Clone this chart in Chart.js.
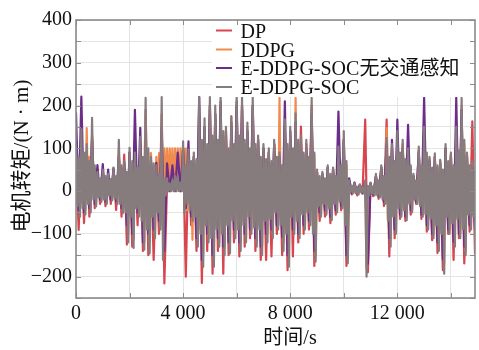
<!DOCTYPE html>
<html>
<head>
<meta charset="utf-8">
<script src="https://cdn.jsdelivr.net/npm/chart.js@4.4.0/dist/chart.umd.min.js"></script>
<style>
  html, body { margin: 0; padding: 0; background: #fff; }
  #wrap { width: 479px; height: 350px; }
</style>
</head>
<body>
<div id="wrap"><canvas id="c" width="479" height="350"></canvas></div>
<script>
// sample spacing (s): DDPG and E-DDPG-SOC are read finer than the others
const STEP = 100;
const STEP_FINE = 50;

// motor torque (N·m), peak/valley alternating
const dp = [
  80,-91, 100,-75, 90,-60, 130,-40, 40,-30, 45,-35, 35,-30, 50,-44, 85,-60, 85,-125,
  90,-130, 80,-80, 110,-140, 190,-150, 70,-161, 60,-100, 180,-216, 20,0, 20,0, 30,0,
  100,-200, 85,-80, 80,-140, 200,-215, 150,-140, 200,-193, 180,-140, 200,-193, 140,-150, 150,-120,
  200,-153, 200,-130, 140,-110, 200,-140, 120,-161, 100,-161, 90,-153, 110,-100, 80,-150, 150,-185,
  130,-153, 160,-120, 151,-100, 110,-90, 200,-175, 45,-70, 40,-60, 55,-75, 50,-55, 90,-45,
  120,-175, 25,-8, 18,-10, 14,-6, 167,-190, 18,-12, 35,-18, 55,-35, 167,-153, 100,-110,
  130,-65, 110,-70, 90,-55, 35,-30, 95,-65, 140,-95, 75,-115, 80,-145, 70,-185, 100,-100,
  85,-161, 140,-110, 190,-169, 85,-95, 163,-146
];
const ddpg = [
  90,-25,60,-40, 100,-30,70,-45, 147,-20,80,-40, 130,-15,50,-30, 40,-10,25,-20,
  45,-15,30,-25, 35,-10,25,-20, 50,-15,30,-25, 100,-25,55,-45, 60,-45,40,-100,
  90,-55,60,-110, 120,-30,50,-50, 110,-60,75,-120, 180,-70,90,-120, 89,-50,60,-100,
  80,-40,89,-80, 100,0,100,0, 100,0,100,0, 100,0,100,0, 100,0,100,0,
  100,0,100,-45, 90,-50,60,-114, 80,-55,70,-110, 180,-90,110,-150, 150,-70,100,-110,
  190,-100,120,-160, 170,-80,110,-120, 200,-90,130,-130, 140,-70,90,-120, 175,-60,100,-100,
  200,-80,120,-120, 190,-70,110,-110, 150,-50,90,-90, 190,-80,100,-120, 120,-80,75,-130,
  100,-60,70,-100, 90,-60,65,-100, 110,-45,75,-80, 218,-70,60,-120, 150,-90,100,-150,
  140,-55,90,-90, 218,-60,110,-100, 120,-50,85,-80, 110,-45,75,-70, 190,-90,85,-150,
  45,-30,30,-50, 40,-28,28,-50, 50,-35,35,-60, 50,-28,30,-45, 90,-20,50,-35,
  120,-70,60,-150, 22,-3,10,-5, 18,-4,9,-6, 14,-2,7,-4, 20,-180,10,-8,
  18,-5,9,-8, 35,-8,22,-12, 55,-15,30,-25, 147,-65,75,-110, 100,-55,65,-90,
  130,-35,80,-55, 110,-40,70,-60, 90,-28,55,-45, 35,-18,22,-25, 95,-30,55,-55,
  140,-50,85,-80, 75,-60,50,-100, 80,-70,55,-120, 70,-90,45,-170, 100,-55,65,-90,
  85,-65,55,-110, 140,-60,90,-100, 200,-85,110,-140, 85,-50,55,-80, 65,-55,40,-90
];
const socNoTraffic = [
  183,-45, 221,-50, 90,-40, 120,-30, 61,-20, 63,-25, 50,-20, 54,-25, 80,-40, 66,-80,
  90,-100, 190,-50, 148,-120, 120,-100, 70,-90, 66,-70, 150,-140, 65,0, 60,0, 90,0,
  100,-40, 116,-60, 80,-110, 220,-161, 150,-100, 200,-150, 180,-110, 210,-130, 130,-120, 160,-90,
  210,-120, 200,-100, 140,-90, 200,-110, 120,-130, 100,-100, 90,-90, 110,-80, 80,-107, 210,-150,
  140,-90, 160,-100, 110,-80, 100,-70, 180,-140, 45,-50, 40,-45, 55,-60, 50,-45, 186,-35,
  120,-150, 30,-5, 20,-5, 15,-5, 20,-170, 18,-8, 35,-12, 55,-25, 110,-110, 120,-90,
  167,-55, 100,-60, 155,-45, 35,-25, 90,-55, 218,-80, 70,-100, 80,-120, 65,-160, 100,-90,
  80,-118, 218,-100, 190,-130, 80,-80, 60,-90
];
const soc = [
  104,-35,80,-60, 145,-40,90,-55, 110,-30,70,-50, 171,-20,60,-36, 45,-15,30,-25,
  50,-20,35,-30, 40,-10,28,-22, 55,-18,35,-30, 120,-30,60,-52, 70,-50,45,-120,
  101,-60,70,-133, 90,-40,55,-60, 127,-70,80,-137, 218,-90,100,-146, 80,-60,65,-110,
  60,-50,40,-90, 220,-161,30,-10, 30,0,18,0, 25,0,35,0, 35,0,20,0,
  116,-52,60,-30, 97,-45,70,-70, 90,-60,75,-130, 220,-100,120,-177, 170,-80,110,-120,
  220,-110,130,-177, 200,-90,120,-130, 220,-100,140,-150, 150,-80,100,-146, 175,-70,110,-110,
  220,-90,130,-140, 220,-80,120,-120, 160,-60,100,-100, 220,-85,110,-130, 130,-90,80,-150,
  110,-70,75,-120, 100,-65,70,-110, 120,-50,80,-90, 90,-80,60,-140, 167,-100,110,-177,
  150,-60,100,-100, 182,-70,120,-110, 130,-55,90,-90, 120,-50,80,-80, 218,-100,90,-165,
  50,-35,35,-60, 45,-30,30,-55, 60,-40,40,-68, 55,-30,35,-50, 104,-25,60,-40,
  140,-80,70,-169, 25,-3,12,-5, 20,-5,10,-8, 15,-3,8,-5, 25,-200,12,-10,
  20,-6,10,-10, 40,-10,25,-15, 60,-20,35,-30, 124,-70,80,-130, 110,-60,70,-100,
  140,-40,90,-60, 120,-45,75,-68, 100,-30,60,-50, 40,-20,25,-30, 104,-35,60,-60,
  150,-55,90,-90, 80,-65,55,-110, 88,-80,60,-140, 73,-100,50,-193, 110,-60,70,-100,
  90,-75,60,-130, 150,-65,95,-110, 218,-90,120,-150, 90,-55,60,-90, 70,-60,45,-100
];

const xTicks = [0, 2000, 4000, 6000, 8000, 10000, 12000, 14000];
const yTicks = [-250, -200, -150, -100, -50, 0, 50, 100, 150, 200, 250, 300, 350, 400];

const seriesNames = ['DP', 'DDPG', 'E-DDPG-SOC无交通感知', 'E-DDPG-SOC'];
const seriesColors = ['#d8454f', '#f08a4e', '#6b2d8a', '#867c7d'];
const seriesData = [dp, ddpg, socNoTraffic, soc];
const seriesStep = [STEP, STEP_FINE, STEP, STEP_FINE];

const xTitle = '时间/s';
const yTitle = '电机转矩/(N · m)';

const SERIF = '"Liberation Serif", "DejaVu Serif", "Noto Sans CJK SC", serif';

function fmtX(v) {
  if (v % 4000 !== 0) return '';
  if (v < 1000) return String(v);
  return Math.floor(v / 1000) + ' ' + String(v % 1000).padStart(3, '0');
}
function fmtY(v) {
  if (v % 100 !== 0) return '';
  return v < 0 ? '\u2212' + Math.abs(v) : String(v);
}

// frame, inward ticks, legend and axis titles
const decor = {
  id: 'decor',
  afterDatasetsDraw(chart) {
    const ctx = chart.ctx;
    const area = chart.chartArea;
    ctx.save();
    ctx.fillStyle = '#fff';
    ctx.fillRect(212, area.top + 1, area.right - 213, 96 - area.top);
    const rows = [30.5, 49.5, 68, 87];
    ctx.font = '20px ' + SERIF;
    ctx.textBaseline = 'alphabetic';
    ctx.textAlign = 'left';
    chart.data.datasets.forEach((ds, i) => {
      ctx.strokeStyle = ds.borderColor;
      ctx.lineWidth = 2;
      ctx.beginPath();
      ctx.moveTo(216, rows[i]);
      ctx.lineTo(232, rows[i]);
      ctx.stroke();
      ctx.fillStyle = '#111';
      ctx.fillText(ds.label, 240.5, rows[i] + 7);
    });
    ctx.restore();
  },
  afterDraw(chart) {
    const ctx = chart.ctx;
    const { left, right, top, bottom } = chart.chartArea;
    const xs = chart.scales.x, ys = chart.scales.y;
    ctx.save();
    ctx.strokeStyle = '#8c8c8c';
    ctx.lineWidth = 1;
    ctx.beginPath();
    yTicks.forEach(v => {
      const py = Math.round(ys.getPixelForValue(v)) + 0.5;
      ctx.moveTo(left, py); ctx.lineTo(left + 5, py);
      ctx.moveTo(right, py); ctx.lineTo(right - 5, py);
    });
    xTicks.forEach(v => {
      const px = Math.round(xs.getPixelForValue(v)) + 0.5;
      ctx.moveTo(px, bottom); ctx.lineTo(px, bottom - 5);
      ctx.moveTo(px, top); ctx.lineTo(px, top + 5);
    });
    ctx.stroke();
    ctx.lineWidth = 1.6;
    ctx.strokeStyle = '#8a8a8a';
    ctx.strokeRect(left, top, right - left, bottom - top);

    ctx.fillStyle = '#111';
    ctx.textAlign = 'center';
    ctx.textBaseline = 'middle';
    ctx.font = '20px ' + SERIF;
    ctx.fillText(xTitle, 290, 339);
    ctx.translate(22.5, 156);
    ctx.rotate(-Math.PI / 2);
    ctx.font = '21px ' + SERIF;
    ctx.fillText(yTitle, 0, 0);
    ctx.restore();
  }
};

new Chart(document.getElementById('c'), {
  type: 'line',
  data: {
    datasets: seriesData.map((vals, i) => ({
      label: seriesNames[i],
      data: vals.map((v, j) => ({ x: j * seriesStep[i], y: v })),
      borderColor: seriesColors[i],
      borderWidth: 2.2,
      borderJoinStyle: 'round',
      borderCapStyle: 'round',
      pointRadius: 0,
      tension: 0,
      fill: false,
      order: 4 - i
    }))
  },
  options: {
    responsive: false,
    animation: false,
    events: [],
    layout: { padding: { left: 0, right: 4, top: 20, bottom: 0 } },
    plugins: {
      legend: { display: false },
      tooltip: { enabled: false }
    },
    scales: {
      x: {
        type: 'linear',
        min: 0,
        max: 14900,
        afterBuildTicks: s => { s.ticks = xTicks.map(v => ({ value: v })); },
        afterFit: s => { s.height = 52; },
        border: { display: false },
        grid: { color: '#e4e4e4', lineWidth: 1, drawTicks: false },
        ticks: {
          autoSkip: false,
          maxRotation: 0,
          padding: 4,
          color: '#111',
          font: { family: SERIF, size: 20 },
          callback: v => fmtX(v)
        }
      },
      y: {
        type: 'linear',
        min: -250,
        max: 400,
        afterBuildTicks: s => { s.ticks = yTicks.map(v => ({ value: v })); },
        afterFit: s => { s.width = 76; },
        border: { display: false },
        grid: { color: '#e4e4e4', lineWidth: 1, drawTicks: false },
        ticks: {
          autoSkip: false,
          padding: 4,
          color: '#111',
          font: { family: SERIF, size: 20 },
          callback: v => fmtY(v)
        }
      }
    }
  },
  plugins: [decor]
});
</script>
</body>
</html>
